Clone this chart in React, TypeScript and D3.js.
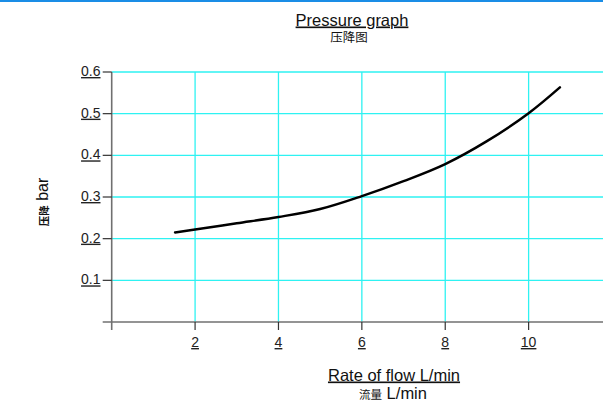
import React from "react";
import * as d3 from "d3";

const flowValues = [1.52, 2, 3, 4, 5, 6, 7, 8, 9, 10, 10.75];
const pressureValues = [0.215, 0.222, 0.237, 0.252, 0.271, 0.302, 0.338, 0.379, 0.434, 0.501, 0.563];
const xTicks = [2, 4, 6, 8, 10];
const yTicks = [0.1, 0.2, 0.3, 0.4, 0.5, 0.6];

const W = 603;
const H = 401;
const FONT = "Liberation Sans, Arial, sans-serif";
const CJK = "Noto Sans CJK SC, sans-serif";

export default function App() {
  const x = d3.scaleLinear().domain([0, 12]).range([111.7, 612]);
  const y = d3.scaleLinear().domain([0, 0.6]).range([322, 72]);
  const pts: [number, number][] = flowValues.map((f, i) => [f, pressureValues[i]]);
  const line = d3
    .line<[number, number]>()
    .x((d) => x(d[0]))
    .y((d) => y(d[1]))
    .curve(d3.curveCatmullRom.alpha(0.5));

  const x0 = x(0);
  const y0 = y(0);
  const yTop = y(0.6);

  return (
    <svg
      width={W}
      height={H}
      style={{ position: "absolute", left: 0, top: 0, background: "#fff" }}
    >
      <rect x={0} y={0} width={W} height={2} fill="#1a8de6" />

      {/* grid */}
      {yTicks.map((t) => (
        <line key={"hy" + t} x1={x0} x2={W} y1={y(t)} y2={y(t)} stroke="#2ef2f2" strokeWidth={1.3} />
      ))}
      {xTicks.map((t) => (
        <line key={"vx" + t} x1={x(t)} x2={x(t)} y1={yTop} y2={y0} stroke="#2ef2f2" strokeWidth={1.3} />
      ))}

      {/* axes */}
      <line x1={102.7} x2={W} y1={y0} y2={y0} stroke="#707070" strokeWidth={1.6} />
      <line x1={x0} x2={x0} y1={yTop} y2={330} stroke="#707070" strokeWidth={1.6} />
      {yTicks.map((t) => (
        <line key={"ty" + t} x1={102.7} x2={x0} y1={y(t)} y2={y(t)} stroke="#333" strokeWidth={1.2} />
      ))}
      {xTicks.map((t) => (
        <line key={"tx" + t} x1={x(t)} x2={x(t)} y1={y0} y2={330} stroke="#333" strokeWidth={1.2} />
      ))}

      {/* tick labels */}
      {yTicks.map((t) => (
        <text
          key={"ly" + t}
          x={100.5}
          y={y(t) + 4}
          textAnchor="end"
          fontFamily={FONT}
          fontSize={14}
          fill="#222"
          textDecoration="underline"
        >
          {t.toFixed(1)}
        </text>
      ))}
      {xTicks.map((t) => (
        <text
          key={"lx" + t}
          x={x(t)}
          y={347}
          textAnchor="middle"
          fontFamily={FONT}
          fontSize={14}
          fill="#222"
          textDecoration="underline"
        >
          {t}
        </text>
      ))}

      {/* curve */}
      <path d={line(pts) || ""} fill="none" stroke="#000" strokeWidth={2.5} strokeLinecap="round" />

      {/* titles */}
      <text x={352} y={25.5} textAnchor="middle" fontFamily={FONT} fontSize={16.5} fill="#111" textDecoration="underline">
        Pressure graph
      </text>
      <text x={349} y={42} textAnchor="middle" fontFamily={CJK} fontSize={12.5} fill="#111">
        压降图
      </text>

      <text x={394} y={380.5} textAnchor="middle" fontFamily={FONT} fontSize={16.5} fill="#111" textDecoration="underline">
        Rate of flow L/min
      </text>
      <text x={393} y={398.5} textAnchor="middle" fill="#111">
        <tspan fontFamily={CJK} fontSize={11.5}>流量</tspan>
        <tspan fontFamily={FONT} fontSize={16.5}> L/min</tspan>
      </text>

      <text
        transform={`translate(47.5, 202) rotate(-90)`}
        textAnchor="middle"
        fill="#111"
      >
        <tspan fontFamily={CJK} fontSize={10.5} fontWeight={700}>压降</tspan>
        <tspan fontFamily={FONT} fontSize={16}> bar</tspan>
      </text>
    </svg>
  );
}
